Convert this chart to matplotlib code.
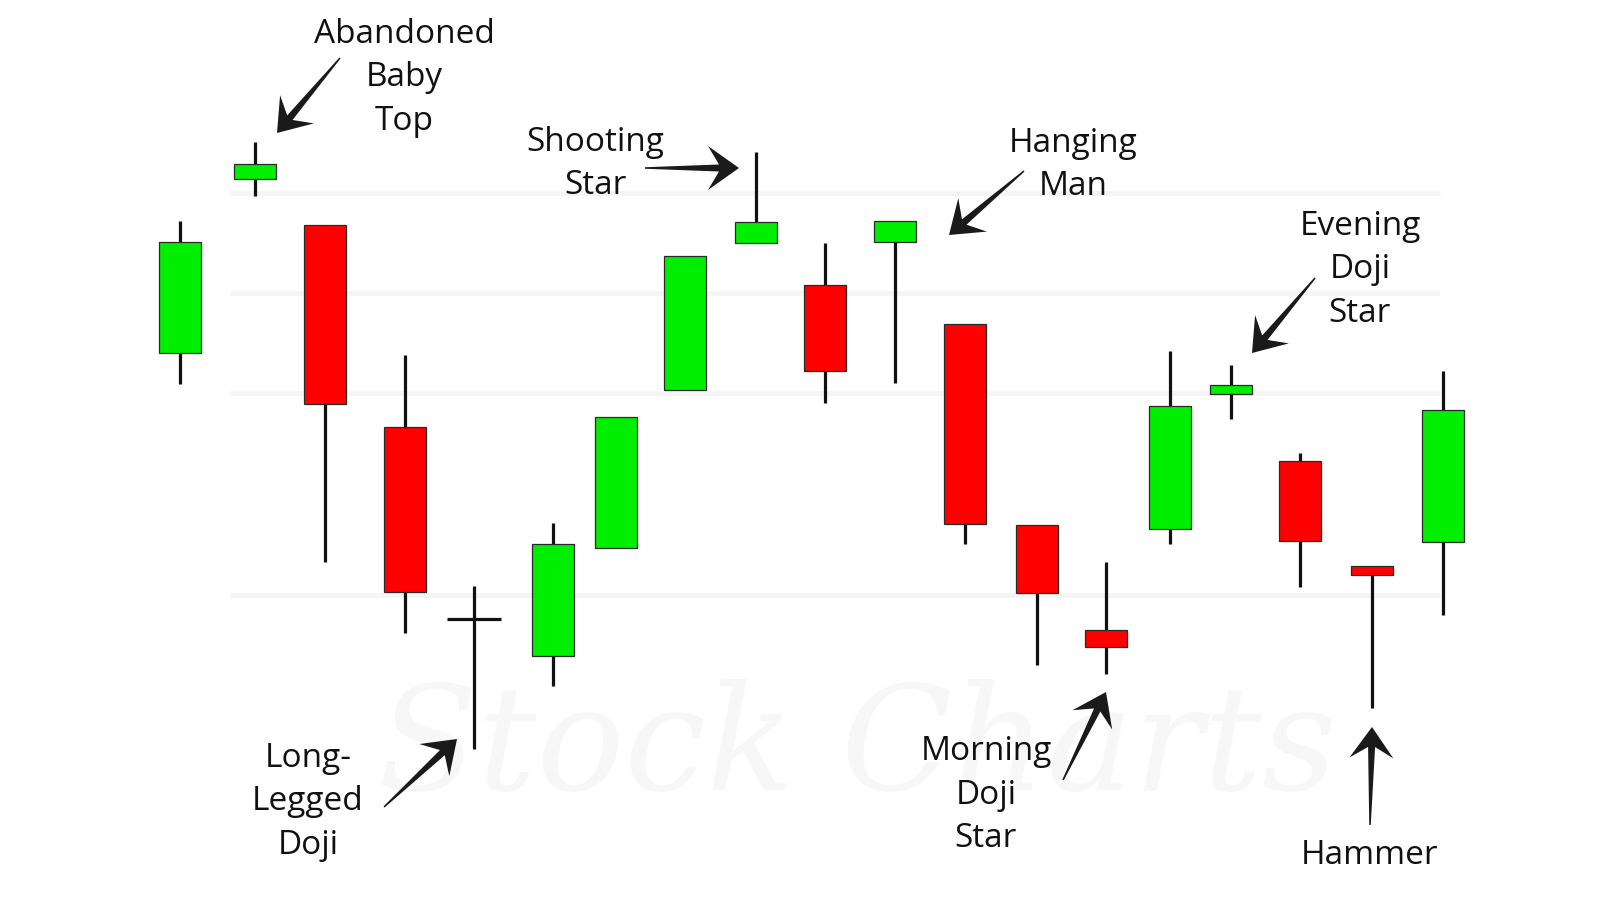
import numpy as np
import matplotlib.pyplot as plt
from matplotlib.patches import Rectangle, Polygon

# Pozycje świec na osi czasu
x_pos = [180, 255, 325, 405, 474, 553, 616, 685, 756, 825,
         895, 965, 1037, 1106, 1170, 1231, 1300, 1372, 1443]
# Ceny OHLC
opens = [54.7, 72.1, 67.5, 47.3, 28.1, 24.4, 35.2, 51.0, 65.7, 61.5,
         65.8, 57.6, 37.5, 27.0, 37.1, 50.6, 43.9, 33.4, 35.8]
highs = [67.9, 75.8, 67.5, 54.5, 31.4, 37.7, 48.3, 64.4, 74.8, 65.7,
         67.9, 57.6, 37.5, 33.8, 54.9, 53.5, 44.7, 33.4, 52.9]
lows = [51.6, 70.4, 33.8, 26.7, 15.1, 21.4, 35.2, 51.0, 65.7, 49.7,
        51.7, 35.6, 23.5, 22.6, 35.6, 48.1, 31.3, 19.2, 28.5]
closes = [65.8, 73.6, 49.6, 30.8, 28.1, 35.6, 48.3, 64.4, 67.8, 52.9,
          67.9, 37.6, 30.7, 25.3, 49.4, 51.5, 35.9, 32.5, 49.0]

# Opisy formacji: tekst, pozycja tekstu, początek i koniec strzałki
labels = ["Abandoned\nBaby\nTop", "Shooting\nStar", "Hanging\nMan",
          "Evening\nDoji\nStar", "Long-\nLegged\nDoji", "Morning\nDoji\nStar",
          "Hammer"]
label_xy = [(404, 82.2), (595, 73.6), (1073, 73.5), (1360, 63.0),
            (308, 9.8), (986, 10.5), (1370, 4.4)]
arrow_from = [(340, 84.2), (645, 73.2), (1024, 72.9), (1315, 62.2),
              (384, 9.3), (1063, 12.0), (1370, 7.5)]
arrow_to = [(277, 76.7), (739, 73.2), (949, 66.5), (1252, 54.7),
            (457, 16.1), (1106, 20.8), (1372, 17.3)]

# Blade linie w tle (znak wodny)
bg_levels = [70.7, 60.7, 50.7, 30.5]

GREEN = '#00ee00'
RED = '#ff0000'
width = 42
YSCALE = 10  # 1 jednostka ceny = 10 px


def strzalka(ax, p0, p1, hl=31, hw=44, notch=11, sw=7, tw=1.5):
    # Strzałka z zwężającym się trzonem i wciętym grotem
    a = np.array([p0[0], p0[1] * YSCALE])
    b = np.array([p1[0], p1[1] * YSCALE])
    d = b - a
    L = np.hypot(*d)
    u = d / L
    v = np.array([-u[1], u[0]])
    local = [(0, tw / 2), (L - hl + notch, sw / 2), (L - hl, hw / 2), (L, 0),
             (L - hl, -hw / 2), (L - hl + notch, -sw / 2), (0, -tw / 2)]
    pts = [a + s * u + t * v for s, t in local]
    pts = [(p[0], p[1] / YSCALE) for p in pts]
    ax.add_patch(Polygon(pts, closed=True, facecolor='#1a1a1a',
                         edgecolor='none', zorder=4))


fig = plt.figure(figsize=(16, 9), dpi=100)
ax = fig.add_axes([0, 0, 1, 1])
ax.set_xlim(0, 1600)
ax.set_ylim(0, 90)
ax.axis('off')

# Znak wodny
for lvl in bg_levels:
    ax.plot([230, 1440], [lvl, lvl], color='#f5f5f5', lw=3.5, zorder=0,
            solid_capstyle='butt')
ax.text(857, 15, 'Stock Charts', fontsize=105, family='DejaVu Serif',
        style='italic', color='#f7f7f7', ha='center', va='center', zorder=0)

# Świece
for x, o, h, l, c in zip(x_pos, opens, highs, lows, closes):
    ax.plot([x, x], [l, h], color='#111111', lw=2.3, zorder=2,
            solid_capstyle='butt')
    if o == c:
        # doji bez korpusu
        ax.plot([x - 27, x + 27], [o, o], color='#111111', lw=2.3, zorder=3,
                solid_capstyle='butt')
        continue
    col = GREEN if c > o else RED
    bottom = min(o, c)
    ax.add_patch(Rectangle((x - width / 2, bottom), width, abs(c - o),
                           facecolor=col, edgecolor='#2a2a2a', lw=0.9,
                           zorder=3))

# Podpisy i strzałki
for txt, (tx, ty), a0, a1 in zip(labels, label_xy, arrow_from, arrow_to):
    ax.text(tx, ty, txt, fontsize=24, family='Open Sans', color='#111111',
            ha='center', va='center', linespacing=1.42, zorder=4)
    strzalka(ax, a0, a1)

fig.savefig('out.png', dpi=100)
